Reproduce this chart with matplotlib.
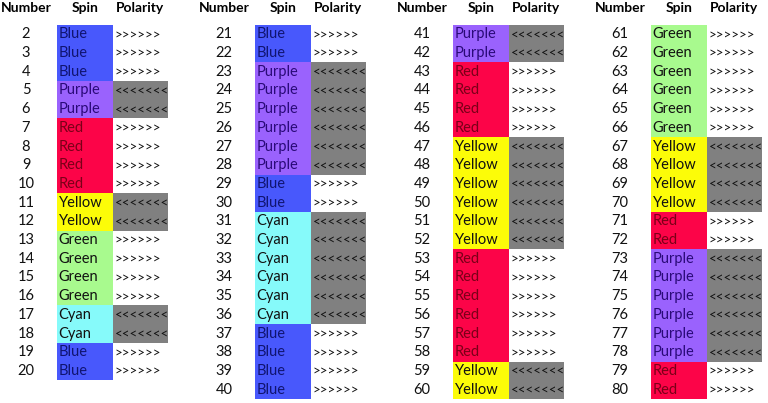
import matplotlib
matplotlib.use("Agg")
import matplotlib.pyplot as plt

# ---- data ----
group_numbers = [list(range(2, 21)), list(range(21, 41)), list(range(41, 61)), list(range(61, 81))]
spins = (
    ["Blue"] * 3 + ["Purple"] * 2 + ["Red"] * 4 + ["Yellow"] * 2 + ["Green"] * 4 + ["Cyan"] * 2 + ["Blue"] * 2
    + ["Blue"] * 2 + ["Purple"] * 6 + ["Blue"] * 2 + ["Cyan"] * 6 + ["Blue"] * 4
    + ["Purple"] * 2 + ["Red"] * 4 + ["Yellow"] * 6 + ["Red"] * 6 + ["Yellow"] * 2
    + ["Green"] * 6 + ["Yellow"] * 4 + ["Red"] * 2 + ["Purple"] * 6 + ["Red"] * 2
)
polarity_of_spin = {"Blue": ">>>>>>", "Red": ">>>>>>", "Green": ">>>>>>",
                    "Purple": "<<<<<<<", "Yellow": "<<<<<<<", "Cyan": "<<<<<<<"}
headers = ["Number", "Spin", "Polarity"]

# ---- styles ----
fill = {"Blue": "#4858fc", "Purple": "#9a62fd", "Red": "#fc0448", "Yellow": "#fcfc08",
        "Green": "#a8fa8e", "Cyan": "#86fafa"}
txtc = {"Blue": "#101470", "Purple": "#2a0a78", "Red": "#7a0018", "Yellow": "#111111",
        "Green": "#111111", "Cyan": "#111111"}
gray = "#808080"
FONT = "Lato"

W, H = 768, 403
fig = plt.figure(figsize=(W / 100, H / 100), dpi=100)
ax = fig.add_axes([0, 0, 1, 1])
row_h = 18.7
top = 25.0
ax.set_xlim(0, W)
ax.set_ylim(-0.5 + (H - top) / row_h, -0.5 - top / row_h)
ax.axis("off")

box_w = 55.5
idx = 0
for g, nums in enumerate(group_numbers):
    left = 57 + 198 * g
    hy = -0.5 - 16.5 / row_h
    ax.text(left - 31, hy, headers[0], ha="center", va="center", fontsize=10, fontweight="bold", family=FONT)
    ax.text(left + box_w / 2, hy, headers[1], ha="center", va="center", fontsize=10, fontweight="bold", family=FONT)
    ax.text(left + box_w * 1.5, hy, headers[2], ha="center", va="center", fontsize=10, fontweight="bold", family=FONT)
    for r, n in enumerate(nums):
        s = spins[idx]
        idx += 1
        p = polarity_of_spin[s]
        ax.barh(r, box_w, left=left, height=1.0, color=fill[s], linewidth=0)
        if p.startswith("<"):
            ax.barh(r, box_w, left=left + box_w, height=1.0, color=gray, linewidth=0)
        ax.text(left - 31, r, str(n), ha="center", va="center", fontsize=10.5, family=FONT, color="#111111")
        ax.text(left + 1.5, r, s, ha="left", va="center", fontsize=10.5, family=FONT, color=txtc[s])
        ax.text(left + box_w + 2.5, r, p, ha="left", va="center", fontsize=9.5, family=FONT, color="#111111")

fig.savefig("out.png", dpi=100)
